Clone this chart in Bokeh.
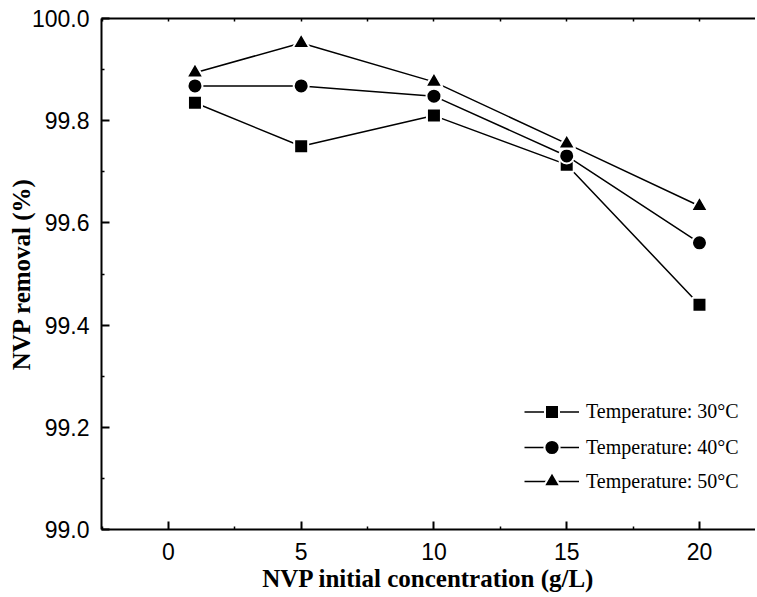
from bokeh.plotting import figure
from bokeh.models import (LinearAxis, FixedTicker, PrintfTickFormatter, Legend,
                          LegendItem, Range1d)
from bokeh.embed import file_html
from bokeh.resources import INLINE

# ---- data ----
conc = [1, 5, 10, 15, 20]
t30 = [99.835, 99.750, 99.810, 99.714, 99.440]
t40 = [99.868, 99.868, 99.848, 99.731, 99.561]
t50 = [99.894, 99.952, 99.876, 99.755, 99.633]
labels = ["Temperature: 30°C", "Temperature: 40°C", "Temperature: 50°C"]
x_ticks = [0, 5, 10, 15, 20]
x_minor = [-2.5, 2.5, 7.5, 12.5, 17.5, 22.5]
y_ticks = [99.0, 99.2, 99.4, 99.6, 99.8, 100.0]
y_minor = [99.1, 99.3, 99.5, 99.7, 99.9]

p = figure(width=755, height=595, output_backend="svg", toolbar_location=None,
           x_range=Range1d(-2.52, 22.11), y_range=Range1d(99.0, 100.0),
           min_border_left=101, min_border_right=0, min_border_top=18,
           min_border_bottom=66)
p.outline_line_color = None
p.grid.visible = False
p.background_fill_color = "white"

for ax in [p.xaxis[0], p.yaxis[0]]:
    ax.axis_line_width = 2
    ax.axis_line_color = "black"
    ax.major_tick_in = 8
    ax.major_tick_out = 0
    ax.minor_tick_in = 3
    ax.minor_tick_out = 0
    ax.major_tick_line_width = 2
    ax.minor_tick_line_width = 1.5
    ax.major_label_text_font = "Liberation Sans"
    ax.major_label_text_font_size = "23px"
    ax.major_label_text_color = "black"
    ax.axis_label_text_font = "Liberation Serif"
    ax.axis_label_text_font_style = "bold"
    ax.axis_label_text_font_size = "25px"
    ax.axis_label_text_color = "black"

p.xaxis[0].ticker = FixedTicker(ticks=x_ticks, minor_ticks=x_minor)
p.xaxis[0].axis_label = "NVP initial concentration (g/L)"
p.xaxis[0].major_label_standoff = 13
p.xaxis[0].axis_label_standoff = 2

p.yaxis[0].ticker = FixedTicker(ticks=y_ticks, minor_ticks=y_minor)
p.yaxis[0].formatter = PrintfTickFormatter(format="%.1f")
p.yaxis[0].axis_label = "NVP removal (%)"
p.yaxis[0].major_label_standoff = 12
p.yaxis[0].axis_label_standoff = -6

# top frame line with small inward ticks only (no labels)
top = LinearAxis(ticker=FixedTicker(ticks=[], minor_ticks=x_ticks + x_minor),
                 axis_line_width=2, minor_tick_in=3, minor_tick_out=0,
                 minor_tick_line_width=1.5)
p.add_layout(top, "above")

series = [(t30, "square", 12, labels[0], 35, 100),
          (t40, "circle", 13, labels[1], 38, 63),
          (t50, "triangle", 15, labels[2], 42, 27)]
for ys, marker, sz, lab, gh, ly in series:
    ln = p.line(conc, ys, line_color="black", line_width=1.5)
    mk = p.scatter(conc, ys, marker=marker, size=sz + 2, fill_color="black",
                   line_color="white", line_width=2)
    lg = Legend(items=[LegendItem(label=lab, renderers=[ln, mk])],
                location=(423, ly), glyph_width=55, glyph_height=gh,
                label_height=gh, spacing=0, label_standoff=7, padding=0, margin=0,
                border_line_color=None, background_fill_alpha=0,
                label_text_font="Liberation Serif", label_text_font_size="20px",
                label_text_color="black")
    p.add_layout(lg, "center")

open("out.html", "w").write(file_html(p, INLINE))
